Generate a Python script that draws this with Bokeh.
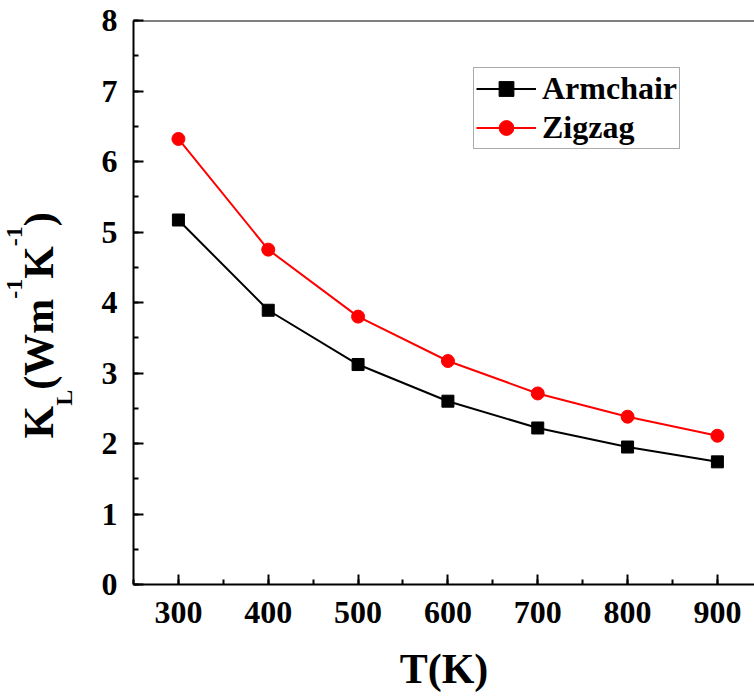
import math
from bokeh.plotting import figure
from bokeh.layouts import row
from bokeh.models import Range1d, SingleIntervalTicker, Span, Legend, LegendItem
from bokeh.core.properties import value
from bokeh.embed import file_html
from bokeh.resources import INLINE

# ---- data ----
temperature = [300, 400, 500, 600, 700, 800, 900]
armchair = [5.17, 3.89, 3.12, 2.60, 2.22, 1.95, 1.74]
zigzag = [6.32, 4.75, 3.80, 3.17, 2.71, 2.38, 2.11]
series_names = ["Armchair", "Zigzag"]
x_title = "T(K)"
# y title pieces: text, font px, baseline shift px (+ = subscript, - = superscript)
y_title_pieces = [("K", 42, 0), ("L", 24, 17), ("(Wm", 42, 0), ("-1", 24, -32),
                  ("K", 42, 0), ("-1", 24, -32), (")", 42, 0)]

# ---- layout ----
TW = 80             # width of the strip that holds the y title
W, H = 754 - TW, 697
LEFT, TOP, BOTTOM = 133 - TW, 20, 113
X0, X1 = 250, 941.3
Y0, Y1 = 0, 8
FONT = "Liberation Serif"

p = figure(width=W, height=H, x_range=Range1d(X0, X1), y_range=Range1d(Y0, Y1),
           output_backend="svg", toolbar_location=None,
           min_border_left=LEFT, min_border_top=TOP, min_border_bottom=BOTTOM,
           min_border_right=0)
p.outline_line_color = None
p.grid.visible = False
p.background_fill_color = "white"
p.border_fill_color = "white"

for ax in (p.xaxis[0], p.yaxis[0]):
    ax.axis_line_width = 2
    ax.major_tick_line_width = 2
    ax.minor_tick_line_width = 2
    ax.major_tick_in = 10
    ax.major_tick_out = 0
    ax.minor_tick_in = 5
    ax.minor_tick_out = 0
    ax.major_label_text_font = FONT
    ax.major_label_text_font_style = "bold"
    ax.major_label_text_font_size = "32px"
    ax.major_label_text_color = "black"

p.xaxis[0].ticker = SingleIntervalTicker(interval=100, num_minor_ticks=2)
p.yaxis[0].ticker = SingleIntervalTicker(interval=1, num_minor_ticks=2)
p.xaxis[0].major_label_standoff = 17
p.yaxis[0].major_label_standoff = 16

p.xaxis[0].axis_label = x_title
p.xaxis[0].axis_label_text_font = FONT
p.xaxis[0].axis_label_text_font_style = "bold"
p.xaxis[0].axis_label_text_font_size = "42px"
p.xaxis[0].axis_label_text_color = "black"
p.xaxis[0].axis_label_standoff = 20

p.add_layout(Span(location=Y1, dimension="width", line_color="black", line_width=2))

# ---- series ----
r1l = p.line(temperature, armchair, line_color="black", line_width=2)
r1s = p.scatter(temperature, armchair, marker="square", size=12,
                fill_color="black", line_color="black")
r2l = p.line(temperature, zigzag, line_color="red", line_width=2)
r2s = p.scatter(temperature, zigzag, marker="circle", size=13,
                fill_color="red", line_color="red")

legend = Legend(items=[LegendItem(label=series_names[0], renderers=[r1l, r1s]),
                       LegendItem(label=series_names[1], renderers=[r2l, r2s])],
                location=(340, 435), margin=0, padding=2, spacing=2,
                glyph_width=60, glyph_height=37, label_height=37, label_standoff=6,
                label_text_font=FONT, label_text_font_style="bold",
                label_text_font_size="32px", label_text_color="black",
                border_line_color="#555555", border_line_width=1.5,
                background_fill_color="white", background_fill_alpha=1.0)
p.add_layout(legend)

# ---- y title strip (frame matches the main frame vertically) ----
t = figure(width=TW, height=H, x_range=Range1d(0, TW), y_range=Range1d(BOTTOM, H - TOP),
           output_backend="svg", toolbar_location=None,
           x_axis_type=None, y_axis_type=None,
           min_border_left=0, min_border_right=0,
           min_border_top=TOP, min_border_bottom=BOTTOM)
t.outline_line_color = None
t.grid.visible = False
t.background_fill_color = "white"
t.border_fill_color = "white"

adv = {"K": 0.778, "L": 0.667, "(": 0.333, "W": 1.0, "m": 0.833,
       "-": 0.333, "1": 0.5, ")": 0.333}
base_x, start_y = 56, 438
pos = 0.0
for txt, size, shift in y_title_pieces:
    # rotated text is drawn with its glyph body centred near the anchor,
    # so move the anchor back by ~0.4 em to put the baseline at base_x + shift
    t.text(x=[base_x + shift - 0.405 * size], y=[H - (start_y - pos)], text=[txt],
           angle=math.pi / 2, text_font=value(FONT), text_font_style="bold",
           text_font_size=f"{size}px", text_align="left",
           text_baseline="alphabetic", text_color="black")
    pos += sum(adv[c] for c in txt) * size

layout = row(t, p, spacing=0)
open("out.html", "w").write(file_html(layout, INLINE))
